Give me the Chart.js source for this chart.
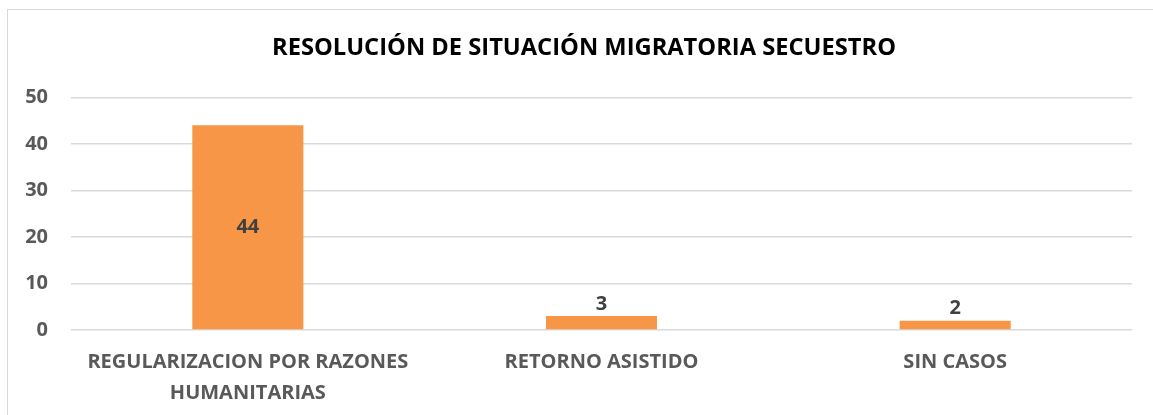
<!DOCTYPE html>
<html>
<head>
<meta charset="utf-8">
<script src="https://cdn.jsdelivr.net/npm/chart.js@4/dist/chart.umd.min.js"></script>
<style>
  html, body { margin: 0; padding: 0; background: #fff; }
  #frame {
    position: absolute; left: 7px; top: 9px; width: 1160px; height: 420px;
    border: 1px solid #d9d9d9; box-sizing: border-box;
  }
  #wrap { position: absolute; left: 0; top: 0; width: 1153px; height: 415px; }
</style>
</head>
<body>
<div id="frame"></div>
<div id="wrap"><canvas id="chart"></canvas></div>
<script>
// Datos del gráfico
const categorias = [
    ['REGULARIZACION POR RAZONES', 'HUMANITARIAS'],
    'RETORNO ASISTIDO',
    'SIN CASOS'
];
const casos = [44, 3, 2];
const titulo = 'RESOLUCIÓN DE SITUACIÓN MIGRATORIA SECUESTRO';

const FONT = '"Open Sans", Lato, sans-serif';

// Etiquetas de valor (centradas si cabe, si no encima de la barra)
const valueLabels = {
    id: 'valueLabels',
    afterDatasetsDraw(chart) {
        const ctx = chart.ctx;
        const meta = chart.getDatasetMeta(0);
        ctx.save();
        ctx.font = 'bold 20px ' + FONT;
        ctx.fillStyle = '#404040';
        ctx.textAlign = 'center';
        ctx.textBaseline = 'middle';
        meta.data.forEach((bar, i) => {
            const h = bar.base - bar.y;
            const y = h > 40 ? (bar.y + bar.base) / 2 : bar.y - 12;
            ctx.fillText(String(casos[i]), bar.x, y);
        });
        ctx.restore();
    }
};

// el título va centrado en el marco, no en el área del gráfico
const titleShift = {
    id: 'titleShift',
    afterLayout(chart) {
        if (chart.titleBlock) {
            chart.titleBlock.left += 13;
            chart.titleBlock.right += 13;
        }
    }
};

const ctx = document.getElementById('chart');
new Chart(ctx, {
    type: 'bar',
    data: {
        labels: categorias,
        datasets: [{
            label: 'Casos',
            data: casos,
            backgroundColor: '#F79646',
            borderWidth: 0,
            categoryPercentage: 1,
            barPercentage: 0.314
        }]
    },
    options: {
        responsive: true,
        maintainAspectRatio: false,
        animation: false,
        layout: { padding: { left: 10, right: 21, top: 0, bottom: 0 } },
        plugins: {
            legend: { display: false },
            tooltip: { enabled: false },
            title: {
                display: true,
                text: titulo,
                color: '#000',
                font: { family: FONT, size: 23.7, weight: 'bold', lineHeight: 1.2 },
                padding: { top: 34, bottom: 35 }
            }
        },
        scales: {
            x: {
                grid: { display: false },
                border: { display: false },
                ticks: {
                    color: '#595959',
                    font: { family: FONT, size: 20, weight: 'bold', lineHeight: 1.55 },
                    padding: 9,
                    maxRotation: 0,
                    autoSkip: false
                },
                afterFit(scale) { scale.height = 85; }
            },
            y: {
                min: 0,
                max: 50,
                grid: { color: '#d9d9d9', lineWidth: 1.5, drawTicks: false },
                border: { display: false },
                ticks: {
                    stepSize: 10,
                    color: '#595959',
                    font: { family: FONT, size: 20, weight: 'bold' },
                    padding: 23
                },
                afterFit(scale) { scale.width = 61; }
            }
        }
    },
    plugins: [valueLabels, titleShift]
});
</script>
</body>
</html>
